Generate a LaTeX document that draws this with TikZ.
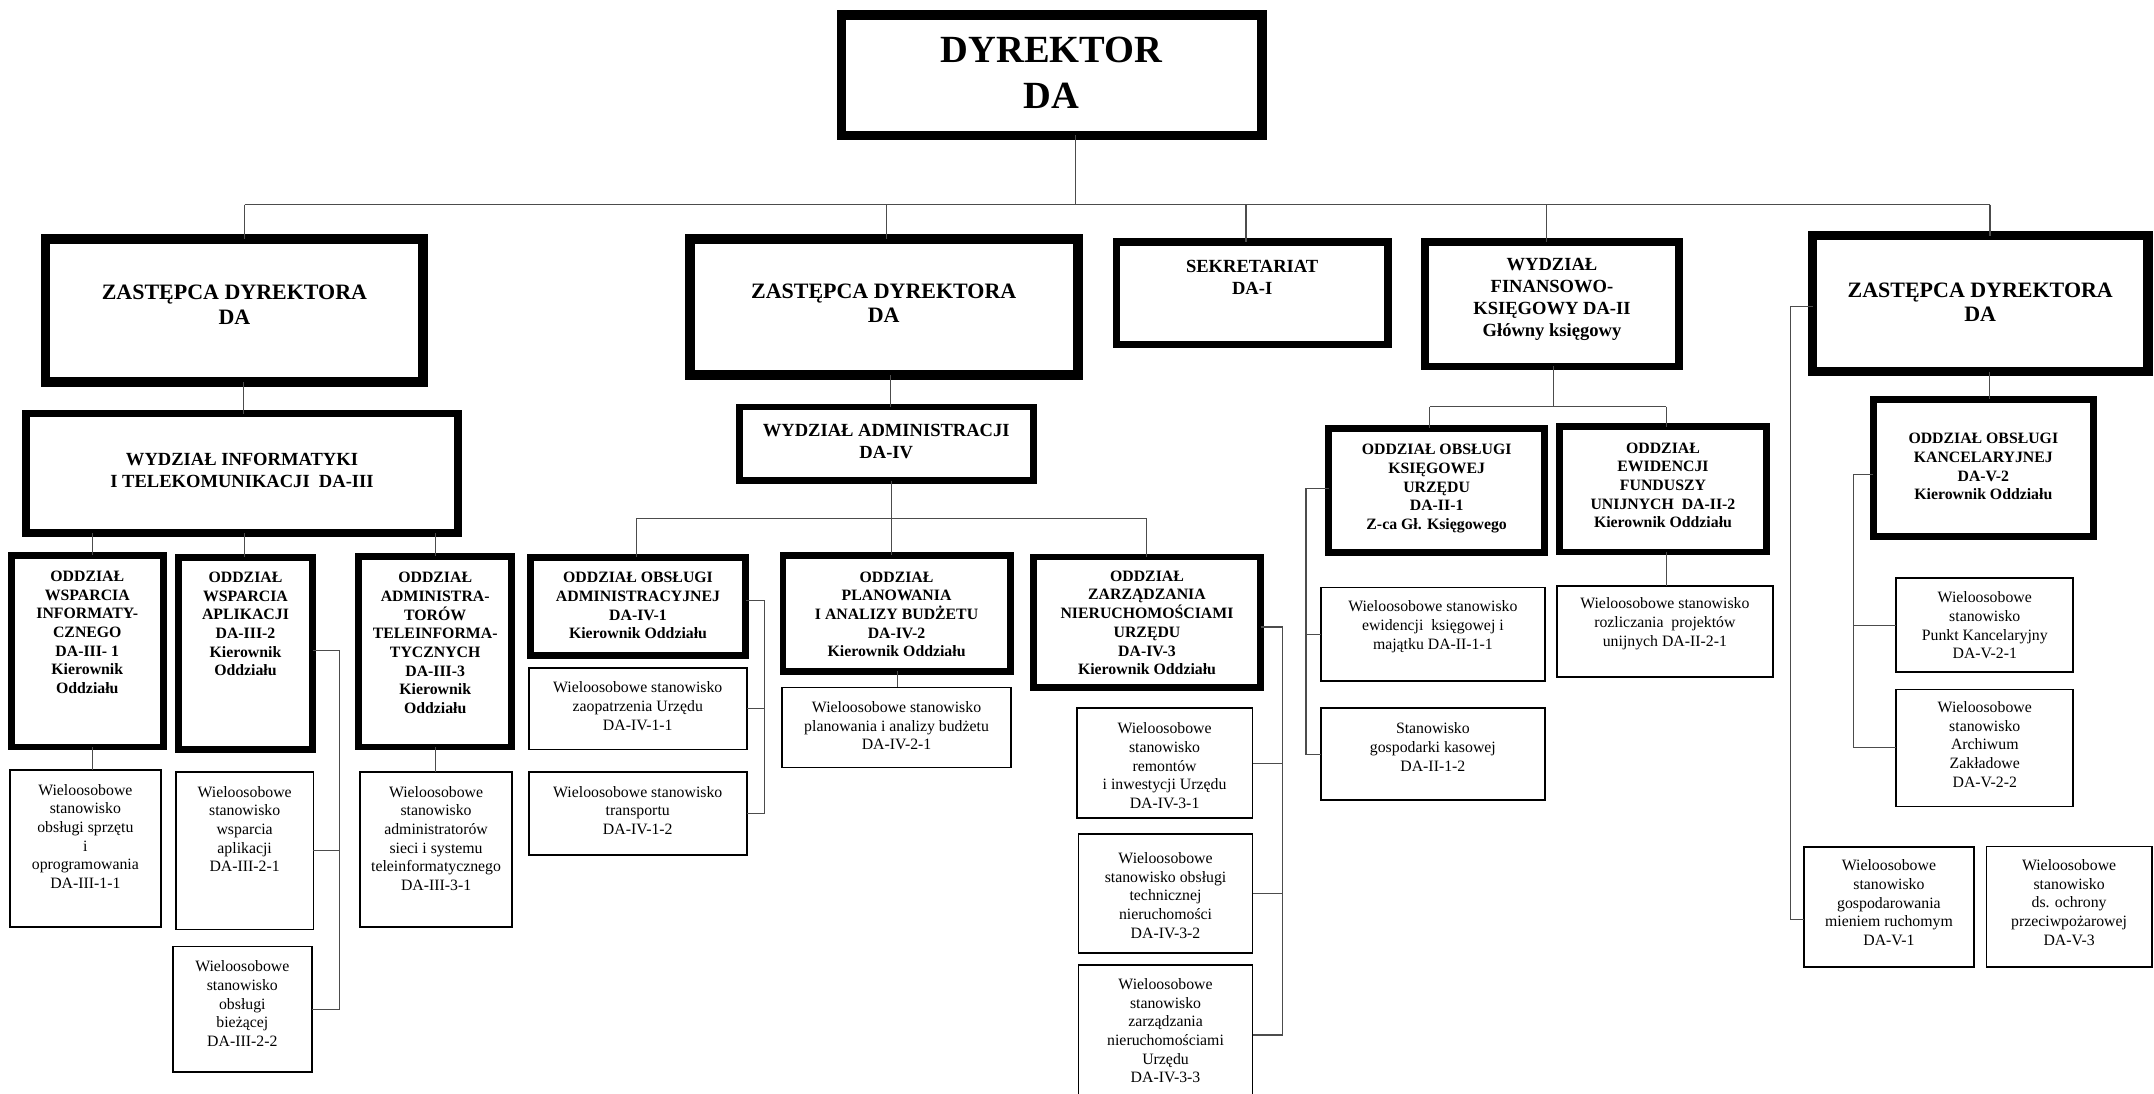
\documentclass[tikz,border=0pt]{standalone}
\usepackage{fontspec}
\setmainfont{Liberation Serif}
\newcommand\bx[9]{%
  \pgfmathsetmacro\bxw{#4-#2-#6}%
  \pgfmathsetmacro\bxh{#5-#3-#6}%
  \node[draw, line width=#6pt, minimum width=\bxw pt, minimum height=\bxh pt,
        inner sep=0pt, outer sep=0pt] (#1) at ({(#2+#4)/2},{(#3+#5)/2}) {};
  \node[#7] (#1t) at ({(#2+#4)/2},#8) {#9};
}
\tikzset{
  tR/.style={font=\fontsize{11.5}{13.6}\selectfont, align=center, inner sep=0pt},
  tB/.style={font=\bfseries\fontsize{11.5}{13.6}\selectfont, align=center, inner sep=0pt},
  tM/.style={font=\bfseries\fontsize{13.5}{16}\selectfont, align=center, inner sep=0pt},
  tZ/.style={font=\bfseries\fontsize{16}{17.8}\selectfont, align=center, inner sep=0pt},
  tD/.style={font=\bfseries\fontsize{28}{33.6}\selectfont, align=center, inner sep=0pt},
  conn/.style={draw=black!70, line width=0.8pt}
}
\begin{document}
\begin{tikzpicture}[x=1pt,y=-1pt]
\useasboundingbox (0,0) rectangle (1568,796);
\fill[white] (0,0) rectangle (1568,796);
\clip (0,0) rectangle (1568,796);

% top level
\bx{dyr}{609}{7.3}{922}{102}{7}{tD}{53.2}{DYREKTOR\\DA}
\bx{z1}{29.7}{170.6}{311.6}{281.5}{7}{tZ}{221.7}{ZASTĘPCA DYREKTORA\\DA}
\bx{z2}{498.6}{170.6}{788}{276.6}{7}{tZ}{220.7}{ZASTĘPCA DYREKTORA\\DA}
\bx{sek}{810}{173.5}{1013}{253.6}{5.5}{tM}{202}{SEKRETARIAT\\DA-I}
\bx{fin}{1034.5}{173.5}{1225}{269.4}{5.5}{tM}{217.8}{WYDZIAŁ\\FINANSOWO-\\KSIĘGOWY DA-II\\Główny księgowy}
\bx{z3}{1316}{168}{1567}{274}{7}{tZ}{220}{ZASTĘPCA DYREKTORA\\DA}

% IT branch
\bx{wi}{16.1}{298.3}{336.2}{390.9}{5.5}{tM}{342.5}{WYDZIAŁ INFORMATYKI\\I TELEKOMUNIKACJI~~DA-III}
\bx{o31}{5.7}{401.7}{121.4}{546.3}{5}{tB}{460.4}{ODDZIAŁ\\WSPARCIA\\INFORMATY-\\CZNEGO\\DA-III- 1\\Kierownik\\Oddziału}
\bx{o32}{127.4}{403.3}{230}{547.9}{5}{tB}{454.3}{ODDZIAŁ\\WSPARCIA\\APLIKACJI\\DA-III-2\\Kierownik\\Oddziału}
\bx{o33}{258.7}{402.3}{374.9}{546.3}{5}{tB}{468}{ODDZIAŁ\\ADMINISTRA-\\TORÓW\\TELEINFORMA-\\TYCZNYCH\\DA-III-3\\Kierownik\\Oddziału}
\bx{w311}{6.5}{559.9}{117.8}{675.6}{1.3}{tR}{608.8}{Wieloosobowe\\stanowisko\\obsługi sprzętu\\i\\oprogramowania\\DA-III-1-1}
\bx{w321}{127.4}{561.5}{228.8}{677.3}{1.3}{tR}{603.5}{Wieloosobowe\\stanowisko\\wsparcia\\aplikacji\\DA-III-2-1}
\bx{w322}{125.3}{688.3}{227.5}{781.2}{1.3}{tR}{730.6}{Wieloosobowe\\stanowisko\\obsługi\\bieżącej\\DA-III-2-2}
\bx{w331}{261.3}{561.5}{373.6}{675.6}{1.3}{tR}{610.3}{Wieloosobowe\\stanowisko\\administratorów\\sieci i systemu\\teleinformatycznego\\DA-III-3-1}

% administration branch
\bx{wa}{535.6}{293.8}{754.7}{352.3}{5}{tM}{321.2}{WYDZIAŁ ADMINISTRACJI\\DA-IV}
\bx{o41}{383.5}{403.3}{545.4}{479.7}{5}{tB}{440.8}{ODDZIAŁ OBSŁUGI\\ADMINISTRACYJNEJ\\DA-IV-1\\Kierownik Oddziału}
\bx{w411}{384.3}{485.6}{544.2}{546.3}{1.3}{tR}{514}{Wieloosobowe stanowisko\\zaopatrzenia Urzędu\\DA-IV-1-1}
\bx{w412}{384.3}{561.5}{544.2}{623.3}{1.3}{tR}{590}{Wieloosobowe stanowisko\\transportu\\DA-IV-1-2}
\bx{o42}{567.5}{401.7}{737.8}{491.1}{5}{tB}{447.3}{ODDZIAŁ\\PLANOWANIA\\I ANALIZY BUDŻETU\\DA-IV-2\\Kierownik Oddziału}
\bx{w421}{568.8}{499.8}{736.5}{559.3}{1.3}{tR}{528.4}{Wieloosobowe stanowisko\\planowania i analizy budżetu\\DA-IV-2-1}
\bx{o43}{749.7}{403}{920.2}{503.2}{5}{tB}{453.4}{ODDZIAŁ\\ZARZĄDZANIA\\NIERUCHOMOŚCIAMI\\URZĘDU\\DA-IV-3\\Kierownik Oddziału}
\bx{w431}{783.1}{515}{912.4}{596}{1.3}{tR}{557.5}{Wieloosobowe\\stanowisko\\remontów\\i inwestycji Urzędu\\DA-IV-3-1}
\bx{w432}{784.5}{606.6}{912.4}{694.4}{1.3}{tR}{651.8}{Wieloosobowe\\stanowisko obsługi\\technicznej\\nieruchomości\\DA-IV-3-2}
\bx{w433}{784.5}{701.8}{912.4}{805}{1.3}{tR}{750.4}{Wieloosobowe\\stanowisko\\zarządzania\\nieruchomościami\\Urzędu\\DA-IV-3-3}

% finance branch
\bx{o21}{964.6}{309.4}{1127}{404.7}{5}{tB}{355.7}{ODDZIAŁ OBSŁUGI\\KSIĘGOWEJ\\URZĘDU\\DA-II-1\\Z-ca Gł. Księgowego}
\bx{o22}{1132.5}{308}{1288.6}{404.3}{5}{tB}{353.3}{ODDZIAŁ\\EWIDENCJI\\FUNDUSZY\\UNIJNYCH~~DA-II-2\\Kierownik Oddziału}
\bx{w211}{960.9}{427}{1125.2}{496.2}{1.3}{tR}{456.1}{Wieloosobowe stanowisko\\ewidencji~~księgowej i\\majątku DA-II-1-1}
\bx{w212}{960.9}{515}{1125.2}{583}{1.3}{tR}{543.7}{Stanowisko\\gospodarki kasowej\\DA-II-1-2}
\bx{w221}{1132.5}{425.9}{1291.4}{493.4}{1.3}{tR}{454}{Wieloosobowe stanowisko\\rozliczania~~projektów\\unijnych DA-II-2-1}

% right branch
\bx{kanc}{1361}{288}{1526.5}{392.8}{5}{tB}{339.6}{ODDZIAŁ OBSŁUGI\\KANCELARYJNEJ\\DA-V-2\\Kierownik Oddziału}
\bx{w521}{1379.8}{420}{1509.8}{490}{1.3}{tR}{455.4}{Wieloosobowe\\stanowisko\\Punkt Kancelaryjny\\DA-V-2-1}
\bx{w522}{1379.8}{501.2}{1509.8}{587.7}{1.3}{tR}{542}{Wieloosobowe\\stanowisko\\Archiwum\\Zakładowe\\DA-V-2-2}
\bx{w51}{1312.7}{615.8}{1437.4}{704.4}{1.3}{tR}{657.1}{Wieloosobowe\\stanowisko\\gospodarowania\\mieniem ruchomym\\DA-V-1}
\bx{w53}{1445.4}{615.6}{1567}{704.4}{1.3}{tR}{657}{Wieloosobowe\\stanowisko\\ds. ochrony\\przeciwpożarowej\\DA-V-3}

% ---- connectors ----
\coordinate (bus0) at (783,149);
\coordinate (busL) at (178,149);
\coordinate (busR) at (1448.6,149);
\coordinate (bus2) at (645,149);
\coordinate (bus3) at (907,149);
\coordinate (bus4) at (1125.6,149);
\draw[conn] (dyr.south -| bus0) -- (bus0);
\draw[conn] (busL) -- (busR);
\draw[conn] (busL) -- (busL |- z1.north);
\draw[conn] (bus2) -- (bus2 |- z2.north);
\draw[conn] (bus3) -- (bus3 |- sek.north);
\draw[conn] (bus4) -- (bus4 |- fin.north);
\draw[conn] (busR) -- (busR |- z3.north);

\coordinate (v1) at (177,0);
\coordinate (v2) at (648,0);
\coordinate (v31) at (67.6,0);
\coordinate (v32) at (178.3,0);
\coordinate (v33) at (317.2,0);
\coordinate (v42) at (653.4,0);
\coordinate (v5) at (1448,0);
\draw[conn] (v1 |- z1.south) -- (v1 |- wi.north);
\draw[conn] (v2 |- z2.south) -- (v2 |- wa.north);
\draw[conn] (v31 |- wi.south) -- (v31 |- o31.north);
\draw[conn] (v32 |- wi.south) -- (v32 |- o32.north);
\draw[conn] (v33 |- wi.south) -- (v33 |- o33.north);
\draw[conn] (v31 |- o31.south) -- (v31 |- w311.north);
\draw[conn] (v33 |- o33.south) -- (v33 |- w331.north);
\draw[conn] (v42 |- o42.south) -- (v42 |- w421.north);
\draw[conn] (v5 |- z3.south) -- (v5 |- kanc.north);

\coordinate (ab) at (649.2,377.3);
\coordinate (abL) at (463.6,377.3);
\coordinate (abR) at (834.3,377.3);
\draw[conn] (ab |- wa.south) -- (ab);
\draw[conn] (abL) -- (abR);
\draw[conn] (abL) -- (abL |- o41.north);
\draw[conn] (ab) -- (ab |- o42.north);
\draw[conn] (abR) -- (abR |- o43.north);

\coordinate (fb) at (1130.6,296);
\coordinate (fbL) at (1040.8,296);
\coordinate (fbR) at (1212.8,296);
\draw[conn] (fb |- fin.south) -- (fb);
\draw[conn] (fbL) -- (fbR);
\draw[conn] (fbL) -- (fbL |- o21.north);
\draw[conn] (fbR) -- (fbR |- o22.north);
\draw[conn] (fbR |- o22.south) -- (fbR |- w221.north);

\coordinate (s32) at (247,473.8);
\draw[conn] (s32 -| o32.east) -- (s32) -- (s32 |- w322.east) -- (w322.east);
\draw[conn] (s32 |- w321.east) -- (w321.east);
\coordinate (s41) at (556.4,437.4);
\draw[conn] (s41 -| o41.east) -- (s41) -- (s41 |- w412.east) -- (w412.east);
\draw[conn] (s41 |- w411.east) -- (w411.east);
\coordinate (s43) at (933.3,456.4);
\draw[conn] (s43 -| o43.east) -- (s43) -- (s43 |- w433.east) -- (w433.east);
\draw[conn] (s43 |- w431.east) -- (w431.east);
\draw[conn] (s43 |- w432.east) -- (w432.east);
\coordinate (s21) at (950.7,355.5);
\draw[conn] (s21 -| o21.west) -- (s21) -- (s21 |- w212.west) -- (w212.west);
\draw[conn] (s21 |- w211.west) -- (w211.west);
\coordinate (s52) at (1349,345.4);
\draw[conn] (s52 -| kanc.west) -- (s52) -- (s52 |- w522.west) -- (w522.west);
\draw[conn] (s52 |- w521.west) -- (w521.west);
\coordinate (s5) at (1303.4,222.8);
\coordinate (s5b) at (1303.4,669.2);
\draw[conn] (s5 -| z3.west) -- (s5) -- (s5b) -- (s5b -| w51.west);
\end{tikzpicture}
\end{document}
